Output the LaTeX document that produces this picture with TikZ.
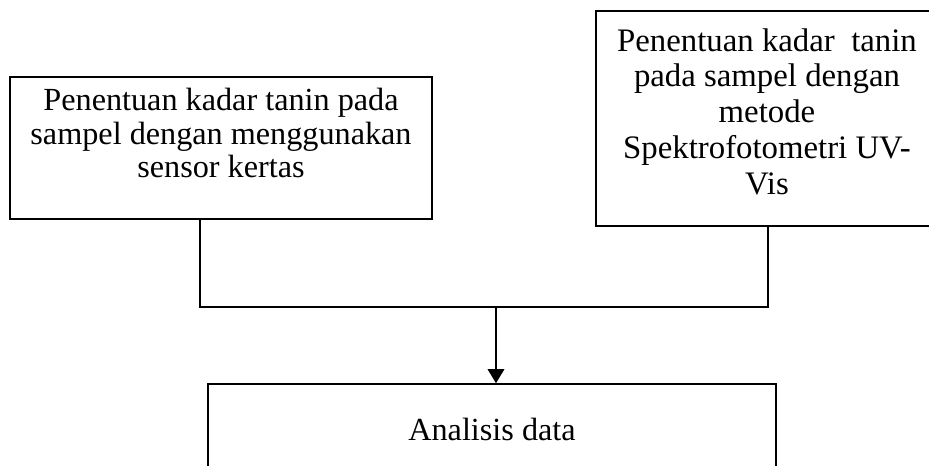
\documentclass[tikz,border=0pt]{standalone}
\usepackage{fontspec}
\setmainfont{Liberation Serif}
\usetikzlibrary{arrows.meta,positioning}

\begin{document}
\begin{tikzpicture}[
    stagebox/.style={rectangle, draw, line width=1.3pt, align=center, inner sep=0pt, font=\fontsize{27.5}{28.6}\selectfont},
    link/.style={line width=1.3pt},
    arrow/.style={-{Triangle[length=12pt,width=14pt]}, line width=1.7pt}
]
\clip (0,0) rectangle (27.87,13.98);

\node[stagebox, minimum width=12.66cm, minimum height=4.26cm, text depth=0.91cm] (kertas) at (6.63,9.54) {Penentuan kadar tanin pada\\ sampel dengan menggunakan\\ sensor kertas};
\node[stagebox, minimum width=10.26cm, minimum height=6.45cm, text depth=0.43cm, font=\fontsize{28}{30.5}\selectfont] (uvvis) at (23.01,10.425) {Penentuan kadar\ \ tanin\\ pada sampel dengan\\ metode\\ Spektrofotometri UV-\\ Vis};
\node[stagebox, minimum width=17.04cm, minimum height=2.73cm] (analisis) at (14.76,1.095) {Analisis data};

\coordinate (leftend) at (6.00,4.77);
\coordinate (rightend) at (23.04,4.77);
\coordinate (tee) at (14.88,4.77);

\draw[link] (kertas.south -| leftend) -- (leftend) -- (rightend) -- (uvvis.south -| rightend);
\draw[arrow] (tee) -- (tee |- analisis.north);

\end{tikzpicture}
\end{document}
